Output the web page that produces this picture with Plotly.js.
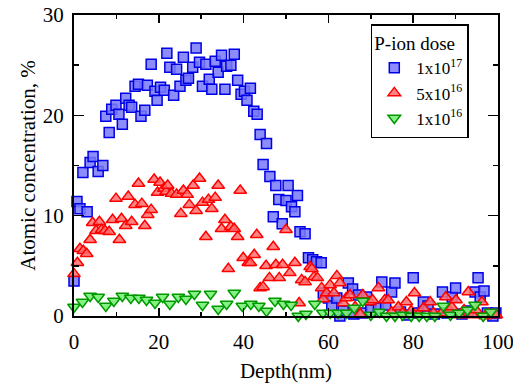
<!DOCTYPE html>
<html>
<head>
<meta charset="utf-8">
<script src="https://cdn.plot.ly/plotly-3.0.1.min.js"></script>
<style>html,body{margin:0;padding:0;background:#fff;}#chart{width:513px;height:385px;}</style>
</head>
<body>
<div id="chart"></div>
<script>
// Series: 1x10^17 dose (blue squares)
const depthHigh = [0,0.7,1.4,2.1,3.1,3.8,4.5,5.7,6.8,7.5,8.3,8.9,9.9,10.6,11.4,12.2,13.0,13.6,14.4,15.2,15.8,16.7,17.3,18.2,19.1,19.6,20.4,21.3,21.9,22.6,23.5,24.2,25.0,25.8,26.4,27.0,28.0,28.8,29.6,30.3,31.1,31.9,32.5,33.3,34.0,34.8,35.6,36.0,37.0,37.8,38.6,39.4,40.2,40.8,41.6,42.4,43.2,43.9,44.6,45.4,46.2,47.0,47.6,48.3,49.1,50.0,50.5,51.3,52.1,52.7,53.3,54.5,55.3,56.3,57.2,58.3,58.8,60.0,60.8,62.0,62.7,63.5,64.7,65.7,66.0,67.1,68.0,69.0,70.0,71.8,72.6,73.5,74.9,75.7,77.0,78.5,80.0,81.0,82.4,83.5,85.0,86.9,88.0,89.2,90.0,91.5,93.0,94.6,95.3,95.8,96.7,97.5,98.8,99.5];
const concHigh = [3.5,11.4,10.7,14.3,10.4,15.3,15.9,14.4,15.0,19.9,18.3,20.6,21.0,20.1,19.1,21.7,21.0,20.8,22.9,23.1,19.9,20.5,23.0,25.1,22.4,21.5,22.8,22.5,26.2,24.8,22.0,24.6,22.9,25.8,23.5,23.7,24.8,26.7,25.3,22.9,25.1,23.6,22.6,25.4,24.3,26.0,22.6,24.9,25.0,26.1,23.5,22.1,22.4,21.5,22.7,20.4,20.1,18.1,15.1,17.2,13.9,9.9,13.0,11.6,9.2,11.5,13.0,10.9,10.4,12.0,8.4,8.2,5.8,5.6,5.4,5.3,2.3,1.8,1.0,1.8,0.0,0.5,3.3,2.7,0.2,2.1,0.3,1.9,0.6,0.8,3.4,1.1,2.4,3.3,0.4,0.1,3.8,0.3,1.4,1.0,0.2,2.4,0.3,1.9,2.8,0.2,0.5,2.4,3.8,1.9,2.5,0.3,0.0,0.3];

// Series: 5x10^16 dose (red triangles)
const depthMid = [0,0.8,1.4,2.2,3.0,3.8,4.4,5.2,6.0,6.5,7.3,8.3,9.1,9.9,10.7,11.2,12.2,12.8,13.6,14.4,15.2,16.0,16.7,17.4,18.2,18.9,19.7,20.3,21.2,21.7,22.1,23.0,24.2,25.2,25.8,26.7,27.2,28.1,28.8,29.6,30.3,31.1,31.7,32.5,33.3,34.0,34.8,35.6,36.4,37.0,37.8,38.6,39.2,39.9,41.1,41.6,42.5,43.1,43.9,44.6,45.3,46.1,47.0,47.6,48.4,49.2,50.0,50.9,52.1,53.1,53.7,54.5,55.7,56.1,56.6,57.4,58.4,58.8,59.6,60.4,61.3,62.0,62.7,63.5,64.2,65.1,66.3,67.5,68.1,69.8,70.4,71.8,73.3,74.1,74.9,76.5,77.5,78.4,79.5,80.3,81.2,82.4,84.0,84.8,86.7,87.7,88.5,89.1,90.1,91.0,92.0,93.0,94.0,94.8,96.2,97.0,97.8,98.9,99.6];
const concMid = [4.2,5.3,6.7,6.5,6.2,7.6,9.3,8.5,9.4,8.6,8.5,8.4,9.6,11.7,7.6,9.7,9.0,11.9,9.4,11.1,13.2,11.2,9.0,10.1,10.6,13.6,12.3,13.3,12.7,12.4,13.0,12.2,12.1,10.2,12.5,12.1,11.1,13.0,10.5,13.7,11.3,7.9,11.6,10.7,11.8,13.0,8.7,9.6,4.7,8.9,8.7,7.9,12.5,5.8,5.3,5.3,6.1,8.1,2.8,2.9,5.0,3.8,6.9,5.1,3.8,5.1,8.6,4.3,5.3,1.3,3.6,3.4,4.9,4.7,3.9,3.8,2.8,1.7,2.3,3.1,2.3,4.0,3.3,1.3,1.8,2.1,0.9,0.2,2.1,1.4,1.6,2.8,1.6,1.6,0.4,0.9,0.3,1.4,0.5,2.3,0.2,0.8,1.4,0.3,0.3,1.9,0.6,0.9,1.6,0.1,0.6,2.4,0.1,0.6,1.4,0.0,0.2,0.2,0.1];

// Series: 1x10^16 dose (green down-triangles)
const depthLow = [0,2.0,3.8,5.7,7.5,9.4,11.4,13.4,15.3,17.1,19.1,20.9,22.6,24.6,26.4,28.4,30.3,32.2,34.0,36.0,37.8,39.7,41.7,43.6,45.4,47.4,49.4,51.2,52.9,54.7,56.8,58.7,60.4,62.3,64.3,66.1,68.1,70.0,72.0,73.7,75.7,77.5,79.5,81.4,83.2,85.1,87.1,88.8,90.8,92.8,94.6,96.5,98.3];
const concLow = [0.9,1.4,2.0,1.9,1.0,1.5,2.0,1.8,1.8,1.6,1.3,1.9,1.2,1.9,1.7,2.2,1.1,2.2,0.7,1.2,2.3,1.0,1.2,1.0,0.5,1.5,1.2,1.1,0.0,0.2,1.2,0.3,0.3,0.3,0.3,0.8,1.5,0.1,0.4,0.0,0.0,0.1,0.0,0.0,0.0,0.0,1.0,0.1,0.3,0.6,1.1,0.0,0.4];

const seriesNames = ['1x10<sup>17</sup>', '5x10<sup>16</sup>', '1x10<sup>16</sup>'];
const legendTitle = 'P-ion dose';
const xTitle = 'Depth(nm)';
const yTitle = 'Atomic concentration, %';

const font = 'Liberation Serif';

const traces = [
  {x: depthHigh, y: concHigh, name: seriesNames[0], type: 'scatter', mode: 'markers', cliponaxis: false,
   marker: {symbol: 'square', size: 10, color: 'rgba(120,120,250,0.85)', line: {color: '#0000e6', width: 1.5}}},
  {x: depthMid, y: concMid, name: seriesNames[1], type: 'scatter', mode: 'markers', cliponaxis: false,
   marker: {symbol: 'triangle-up', size: 11, color: 'rgba(255,110,110,0.85)', line: {color: '#ff0000', width: 1.5}}},
  {x: depthLow, y: concLow, name: seriesNames[2], type: 'scatter', mode: 'markers', cliponaxis: false,
   marker: {symbol: 'triangle-down', size: 11, color: 'rgba(120,240,120,0.9)', line: {color: '#009900', width: 1.5}}}
];

const layout = {
  width: 513, height: 385,
  margin: {l: 74, r: 15, t: 15, b: 69},
  paper_bgcolor: '#fff', plot_bgcolor: '#fff',
  font: {family: font, size: 21, color: '#000'},
  showlegend: true,
  legend: {
    x: 0.70, y: 0.97, xanchor: 'left', yanchor: 'top',
    bgcolor: '#fff', bordercolor: '#000', borderwidth: 1.5,
    font: {family: font, size: 17, color: '#000'},
    title: {text: legendTitle, font: {family: font, size: 19, color: '#000'}},
    tracegroupgap: 0,
    itemwidth: 34
  },
  xaxis: {
    range: [0, 100], dtick: 20, tick0: 0,
    showgrid: false, zeroline: false,
    showline: true, linecolor: '#000', linewidth: 2, mirror: 'ticks',
    ticks: 'inside', ticklen: 8, tickwidth: 1.5, tickcolor: '#000',
    minor: {dtick: 10, ticks: 'inside', ticklen: 4, tickwidth: 1.5, tickcolor: '#000', showgrid: false},
    tickfont: {family: font, size: 21},
    ticklabeloverflow: 'allow',
    ticklabelstandoff: 6,
    title: {text: xTitle, font: {family: font, size: 21}, standoff: 10}
  },
  yaxis: {
    range: [0, 30], dtick: 10, tick0: 0,
    showgrid: false, zeroline: false,
    showline: true, linecolor: '#000', linewidth: 2, mirror: 'ticks',
    ticks: 'inside', ticklen: 10, tickwidth: 1.5, tickcolor: '#000',
    minor: {dtick: 5, ticks: 'inside', ticklen: 5, tickwidth: 1.5, tickcolor: '#000', showgrid: false},
    tickfont: {family: font, size: 21},
    ticklabeloverflow: 'allow',
    ticklabelstandoff: 4,
    title: {text: yTitle, font: {family: font, size: 21}, standoff: 1}
  }
};

Plotly.newPlot('chart', traces, layout, {displayModeBar: false, staticPlot: true});
</script>
</body>
</html>
